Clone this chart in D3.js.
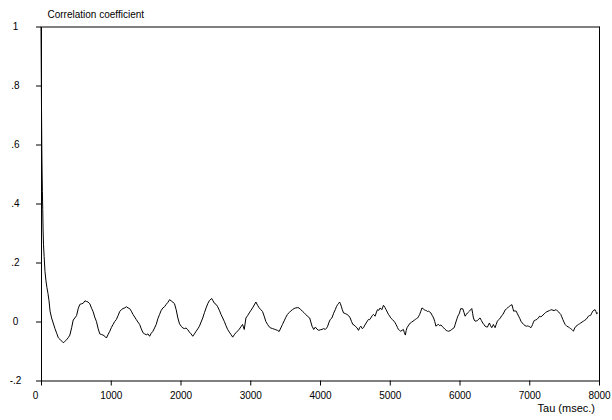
<!DOCTYPE html>
<html>
<head>
<meta charset="utf-8">
<script src="https://cdn.jsdelivr.net/npm/d3@7"></script>
<style>
  body { margin: 0; background: #fff; }
  text { font-family: "Liberation Sans", Arial, sans-serif; }
</style>
</head>
<body>
<svg id="mainsvg" width="612" height="420"></svg>
<script>
// axis text
const yAxisLabel = 'Correlation coefficient';
const xAxisLabel = 'Tau (msec.)';
const xTicks = [0, 1000, 2000, 3000, 4000, 5000, 6000, 7000, 8000];
const yTicks = [1, 0.8, 0.6, 0.4, 0.2, 0, -0.2];
const yTickLabels = ['1', '.8', '.6', '.4', '.2', '0', '-.2'];

// lag (ms) and correlation, 10 per row, rows match
const tauMs = [
  0, 4, 8, 12, 16, 20, 25, 30, 36, 45,
  57, 70, 85, 100, 115, 130, 152, 175, 200, 225,
  248, 270, 295, 319, 340, 367, 390, 414, 440, 462,
  485, 510, 535, 557, 580, 605, 630, 652, 675, 700,
  725, 748, 770, 795, 820, 843, 865, 890, 915, 938,
  960, 986, 1010, 1033, 1057, 1081, 1105, 1129, 1152, 1176,
  1200, 1224, 1248, 1271, 1295, 1319, 1343, 1367, 1390, 1414,
  1438, 1462, 1486, 1510, 1533, 1557, 1580, 1605, 1628, 1652,
  1676, 1700, 1724, 1748, 1771, 1795, 1820, 1843, 1866, 1890,
  1914, 1938, 1962, 1986, 2010, 2033, 2057, 2080, 2105, 2128,
  2152, 2176, 2200, 2224, 2248, 2271, 2295, 2319, 2343, 2367,
  2390, 2414, 2448, 2466, 2486, 2510, 2533, 2557, 2581, 2605,
  2629, 2652, 2676, 2700, 2724, 2748, 2771, 2795, 2820, 2843,
  2866, 2890, 2914, 2938, 2962, 2986, 3010, 3033, 3057, 3081,
  3105, 3129, 3152, 3176, 3200, 3224, 3248, 3271, 3295, 3320,
  3343, 3367, 3390, 3414, 3438, 3462, 3486, 3510, 3533, 3557,
  3581, 3605, 3628, 3652, 3676, 3700, 3724, 3748, 3771, 3795,
  3819, 3852, 3886, 3910, 3933, 3957, 3981, 4005, 4029, 4052,
  4076, 4095, 4110, 4130, 4148, 4171, 4195, 4219, 4235, 4252,
  4268, 4281, 4293, 4305, 4320, 4338, 4362, 4386, 4410, 4433,
  4452, 4471, 4490, 4505, 4529, 4552, 4570, 4586, 4605, 4624,
  4643, 4662, 4680, 4695, 4710, 4729, 4748, 4767, 4790, 4810,
  4824, 4843, 4862, 4886, 4910, 4930, 4948, 4965, 4981, 5000,
  5014, 5040, 5062, 5076, 5090, 5110, 5124, 5140, 5157, 5176,
  5195, 5210, 5224, 5236, 5248, 5272, 5295, 5314, 5333, 5350,
  5367, 5385, 5400, 5415, 5429, 5446, 5462, 5480, 5495, 5510,
  5524, 5540, 5557, 5575, 5590, 5610, 5629, 5645, 5662, 5680,
  5700, 5715, 5733, 5752, 5771, 5790, 5810, 5826, 5843, 5866,
  5890, 5905, 5924, 5938, 5952, 5965, 5976, 5990, 6000, 6010,
  6019, 6035, 6048, 6065, 6081, 6098, 6114, 6130, 6143, 6160,
  6176, 6188, 6200, 6212, 6224, 6240, 6257, 6275, 6295, 6315,
  6333, 6350, 6367, 6385, 6400, 6414, 6429, 6445, 6462, 6475,
  6486, 6498, 6510, 6526, 6543, 6562, 6586, 6605, 6624, 6640,
  6657, 6675, 6690, 6705, 6719, 6735, 6752, 6765, 6776, 6795,
  6814, 6830, 6848, 6865, 6881, 6900, 6919, 6940, 6957, 6975,
  6990, 7008, 7024, 7036, 7048, 7060, 7071, 7090, 7110, 7130,
  7148, 7165, 7181, 7198, 7214, 7232, 7252, 7270, 7290, 7307,
  7324, 7340, 7357, 7372, 7386, 7402, 7419, 7436, 7452, 7466,
  7481, 7498, 7514, 7526, 7538, 7558, 7576, 7593, 7610, 7622,
  7633, 7652, 7671, 7688, 7705, 7720, 7738, 7757, 7776, 7795,
  7814, 7830, 7848, 7865, 7881, 7895, 7910, 7927, 7943, 7955,
  7967, 7985
];
const corrCoef = [
  1.0, 0.85, 0.70, 0.58, 0.50, 0.44, 0.38, 0.31, 0.26, 0.22,
  0.17, 0.14, 0.115, 0.095, 0.07, 0.035, 0.012, -0.005, -0.024, -0.04,
  -0.055, -0.06, -0.066, -0.072, -0.068, -0.062, -0.055, -0.046, -0.02, 0.005,
  0.012, 0.02, 0.045, 0.058, 0.06, 0.062, 0.07, 0.068, 0.066, 0.06,
  0.045, 0.033, 0.015, 0.0, -0.025, -0.042, -0.044, -0.046, -0.05, -0.056,
  -0.045, -0.033, -0.02, -0.01, 0.0, 0.007, 0.02, 0.034, 0.04, 0.044,
  0.046, 0.05, 0.046, 0.044, 0.035, 0.024, 0.015, 0.006, -0.002, -0.01,
  -0.025, -0.038, -0.042, -0.045, -0.042, -0.05, -0.04, -0.033, -0.022, -0.01,
  0.01, 0.024, 0.038, 0.046, 0.05, 0.058, 0.065, 0.074, 0.07, 0.066,
  0.06, 0.04, 0.012, -0.008, -0.016, -0.022, -0.024, -0.022, -0.028, -0.036,
  -0.042, -0.05, -0.042, -0.033, -0.025, -0.016, -0.002, 0.012, 0.03, 0.046,
  0.06, 0.071, 0.078, 0.07, 0.062, 0.058, 0.05, 0.038, 0.024, 0.012,
  0.0, -0.014, -0.027, -0.036, -0.044, -0.053, -0.045, -0.038, -0.032, -0.026,
  -0.018, -0.01, -0.027, 0.012, 0.02, 0.029, 0.038, 0.046, 0.056, 0.066,
  0.055, 0.046, 0.04, 0.034, 0.018, 0.0, -0.01, -0.018, -0.022, -0.024,
  -0.026, -0.028, -0.03, -0.034, -0.022, -0.01, 0.002, 0.014, 0.024, 0.03,
  0.036, 0.04, 0.044, 0.046, 0.047, 0.046, 0.04, 0.035, 0.03, 0.024,
  0.018, 0.012, -0.016, -0.027, -0.019, -0.026, -0.03, -0.028, -0.027, -0.024,
  -0.027, -0.022, -0.016, -0.002, 0.007, 0.012, 0.028, 0.04, 0.05, 0.057,
  0.062, 0.066, 0.06, 0.052, 0.04, 0.029, 0.027, 0.024, 0.02, 0.012,
  0.0, -0.01, -0.012, -0.016, -0.021, -0.03, -0.02, -0.016, -0.024, -0.021,
  -0.012, -0.005, 0.002, 0.007, 0.006, 0.012, 0.02, 0.024, 0.018, 0.032,
  0.04, 0.038, 0.046, 0.04, 0.055, 0.048, 0.04, 0.032, 0.024, 0.018,
  0.012, 0.006, 0.001, -0.004, -0.01, -0.02, -0.027, -0.03, -0.033, -0.03,
  -0.027, -0.038, -0.046, -0.03, -0.021, -0.012, -0.005, -0.002, 0.001, 0.004,
  0.007, 0.01, 0.012, 0.018, 0.024, 0.035, 0.046, 0.043, 0.04, 0.038,
  0.037, 0.034, 0.035, 0.032, 0.029, 0.02, 0.012, 0.0, -0.016, -0.012,
  -0.01, -0.014, -0.012, -0.016, -0.021, -0.026, -0.03, -0.032, -0.033, -0.031,
  -0.027, -0.024, -0.021, -0.01, 0.001, 0.01, 0.018, 0.024, 0.029, 0.038,
  0.044, 0.043, 0.043, 0.03, 0.018, 0.024, 0.029, 0.032, 0.035, 0.04,
  0.044, 0.028, 0.012, 0.005, 0.001, 0.002, 0.003, 0.008, 0.012, 0.003,
  -0.005, -0.01, -0.016, -0.018, -0.019, -0.012, -0.005, -0.014, -0.021, -0.015,
  -0.01, -0.016, -0.021, -0.01, 0.001, 0.006, 0.012, 0.02, 0.024, 0.032,
  0.04, 0.043, 0.046, 0.05, 0.052, 0.055, 0.057, 0.045, 0.035, 0.036,
  0.035, 0.026, 0.018, 0.01, 0.001, -0.005, -0.01, -0.014, -0.016, -0.015,
  -0.016, -0.018, -0.021, -0.016, -0.01, -0.002, 0.003, 0.005, 0.007, 0.012,
  0.018, 0.016, 0.018, 0.022, 0.026, 0.03, 0.033, 0.035, 0.037, 0.039,
  0.04, 0.038, 0.037, 0.039, 0.04, 0.036, 0.033, 0.028, 0.024, 0.016,
  0.007, -0.002, -0.01, -0.013, -0.016, -0.018, -0.021, -0.024, -0.027, -0.03,
  -0.033, -0.022, -0.016, -0.013, -0.01, -0.008, -0.005, -0.002, 0.001, 0.004,
  0.007, 0.012, 0.018, 0.02, 0.021, 0.028, 0.035, 0.038, 0.04, 0.034,
  0.026, 0.03
];

const svg = d3.select('#mainsvg');
const width = +svg.attr('width');
const height = +svg.attr('height');
svg.append('rect').attr('width', width).attr('height', height).attr('fill', '#fff');

// plot box
const xScale = d3.scaleLinear().domain([0, 8000]).range([41, 599]);
const yScale = d3.scaleLinear().domain([-0.2, 1]).range([380.5, 26.5]);

const data = tauMs.map((t, i) => ({ tau: t, r: corrCoef[i] }));

// top + right frame
svg.append('line')
    .attr('x1', xScale(0) + 0.5).attr('x2', xScale(8000) + 0.5)
    .attr('y1', yScale(1) + 0.5).attr('y2', yScale(1) + 0.5)
    .attr('stroke', '#000');
svg.append('line')
    .attr('x1', xScale(8000) + 0.5).attr('x2', xScale(8000) + 0.5)
    .attr('y1', yScale(1)).attr('y2', yScale(-0.2) + 0.5)
    .attr('stroke', '#000');

// y axis
const yAxis = d3.axisLeft(yScale)
    .tickValues(yTicks)
    .tickFormat((d, i) => yTickLabels[i])
    .tickSize(5)
    .tickSizeOuter(0);
const yAxisGroup = svg.append('g')
    .attr('transform', `translate(${xScale(0)}, 0)`)
    .call(yAxis);
yAxisGroup.selectAll('text')
    .attr('x', 15.5 - xScale(0))
    .attr('text-anchor', 'middle')
    .attr('font-size', 10)
    .attr('font-family', null)
    .attr('fill', '#000');

// x axis
const xAxis = d3.axisBottom(xScale)
    .tickValues(xTicks)
    .tickFormat(d3.format('d'))
    .tickSize(5)
    .tickSizeOuter(0)
    .tickPadding(6);
const xAxisGroup = svg.append('g')
    .attr('transform', `translate(0, ${yScale(-0.2)})`)
    .call(xAxis);
xAxisGroup.selectAll('text')
    .attr('font-size', 10)
    .attr('font-family', null)
    .attr('fill', '#000');
xAxisGroup.selectAll('text').filter(d => d === 0).attr('dx', -6);

svg.selectAll('.domain').attr('stroke', '#000');
svg.selectAll('.tick line').attr('stroke', '#000');

// labels
svg.append('text')
    .attr('x', 47.5).attr('y', 18)
    .attr('font-size', 10)
    .text(yAxisLabel);
svg.append('text')
    .attr('x', 595).attr('y', 411.5)
    .attr('text-anchor', 'end')
    .attr('font-size', 11)
    .text(xAxisLabel);

// correlogram line
const line = d3.line()
    .x(d => xScale(d.tau))
    .y(d => yScale(d.r));
svg.append('path')
    .datum(data)
    .attr('fill', 'none')
    .attr('stroke', '#000')
    .attr('stroke-width', 1)
    .attr('stroke-linejoin', 'round')
    .attr('d', line);
</script>
</body>
</html>
